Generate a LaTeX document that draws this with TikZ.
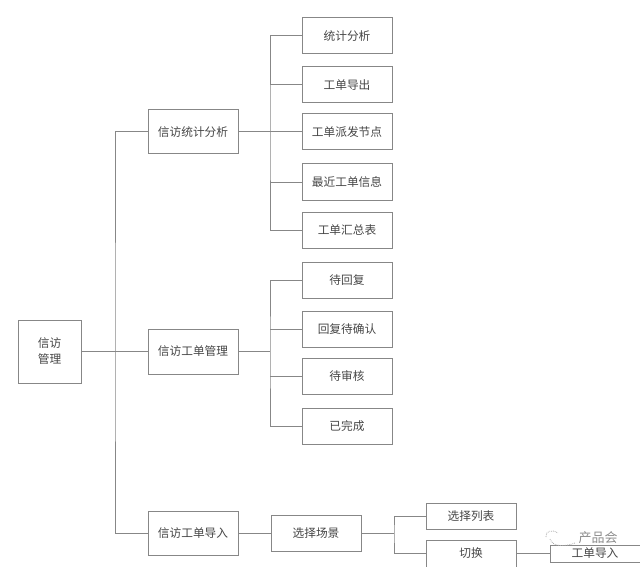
\documentclass[tikz,border=0pt]{standalone}
\usepackage{fontspec}
\newfontfamily\cjk{Noto Sans CJK SC}[Scale=1]
\tikzset{
  boxn/.style={draw=boxgray,line width=1pt,fill=white,inner sep=0pt,align=center,text=txtgray,font=\cjk\fontsize{11.7pt}{16pt}\selectfont},
  wire/.style={draw=boxgray,line width=1pt},
}
\definecolor{boxgray}{RGB}{135,135,135}
\definecolor{txtgray}{RGB}{70,70,70}
\definecolor{markgray}{RGB}{140,140,140}
\newcommand{\bx}[6]{\node[boxn,minimum width=#3 pt-#1 pt,minimum height=#4 pt-#2 pt] (#5) at ({(#1+#3)/2},{(#2+#4)/2}) {#6};}
\begin{document}
\begin{tikzpicture}[x=1pt,y=-1pt]
\useasboundingbox (0,0) rectangle (640,567);
\coordinate (busL) at (115,351.5);
\coordinate (busA) at (270,132);
\coordinate (busB) at (270,351.5);
\coordinate (busS) at (394,533);

\bx{18}{320}{81}{383}{root}{信访\\管理}
\bx{148}{110}{238}{154}{a}{信访统计分析}
\bx{148}{329}{238}{374}{b}{信访工单管理}
\bx{148}{511}{238}{555}{c}{信访工单导入}
\bx{302}{18}{392}{54}{a1}{统计分析}
\bx{302}{67}{392}{103}{a2}{工单导出}
\bx{302}{114}{392}{150}{a3}{工单派发节点}
\bx{302}{164}{392}{200}{a4}{最近工单信息}
\bx{302}{212}{392}{248}{a5}{工单汇总表}
\bx{302}{262}{392}{298}{b1}{待回复}
\bx{302}{311}{392}{347}{b2}{回复待确认}
\bx{302}{358}{392}{394}{b3}{待审核}
\bx{302}{408}{392}{444}{b4}{已完成}
\bx{271}{515}{361}{551}{s}{选择场景}
\bx{426}{503}{516}{529}{t1}{选择列表}
\bx{426}{540}{516}{567}{t2}{切换}
\bx{550}{545}{640}{562}{t3}{工单导入}

\draw[wire] (root.east) -- (b.west);
\draw[wire] (a.west) -| (busL) |- (c.west);
\draw[wire] (a.east) -- (a3.west);
\draw[wire] (a1.west) -| (busA) |- (a5.west);
\draw[wire] (busA |- a2.west) -- (a2.west);
\draw[wire] (busA |- a4.west) -- (a4.west);
\draw[wire] (b.east) -- (busB);
\draw[wire] (b1.west) -| (busB) |- (b4.west);
\draw[wire] (busB |- b2.west) -- (b2.west);
\draw[wire] (busB |- b3.west) -- (b3.west);
\draw[wire] (c.east) -- (s.west);
\draw[wire] (s.east) -- (busS);
\draw[wire] (t1.west) -| (busS) |- (t2.west);
\draw[wire] (t2.east) -- (t3.west);

\node[text=markgray,font=\cjk\fontsize{13pt}{15pt}\selectfont,inner sep=0pt] (wm) at (598,538) {产品会};
\draw[markgray!70,line width=0.8pt,densely dotted] (546,537) .. controls (545,531) and (552,529) .. (558,533);
\draw[markgray!70,line width=0.8pt,densely dotted] (550,539) .. controls (553,547) and (564,547) .. (575,543);
\end{tikzpicture}
\end{document}
